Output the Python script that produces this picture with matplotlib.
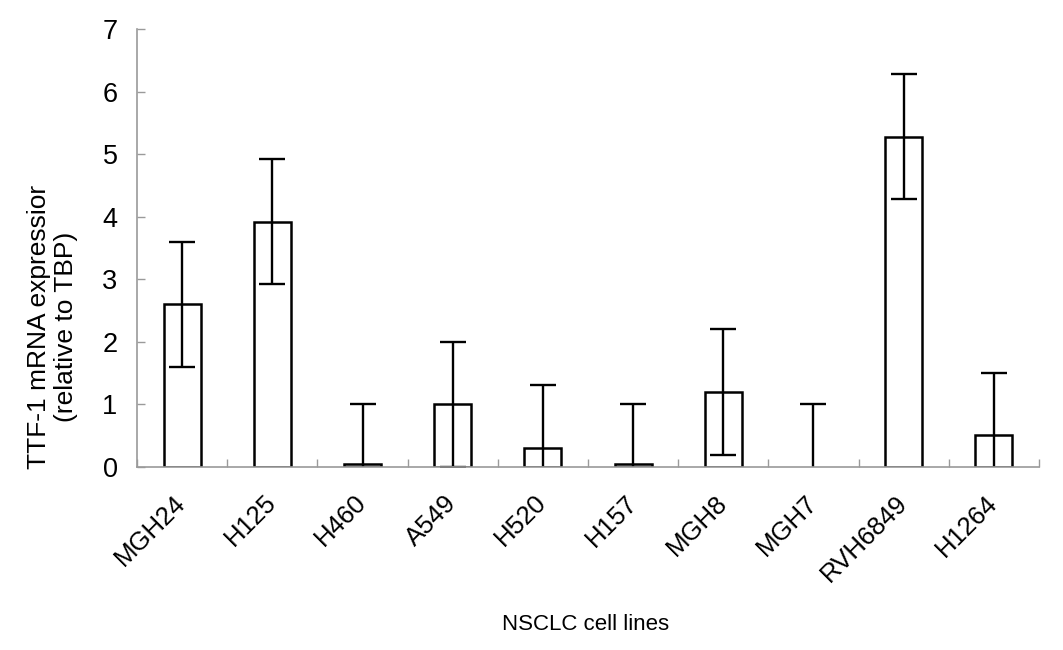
import numpy as np
import matplotlib
matplotlib.use('Agg')
import matplotlib.pyplot as plt

# TTF-1 expression per NSCLC cell line
cell_lines = ['MGH24', 'H125', 'H460', 'A549', 'H520',
              'H157', 'MGH8', 'MGH7', 'RVH6849', 'H1264']
expression = [2.6, 3.92, 0.05, 1.0, 0.31, 0.05, 1.2, 0.0, 5.28, 0.51]
errors = [1.0, 1.0, 0.96, 1.0, 1.0, 0.96, 1.0, 1.0, 1.0, 1.0]

plt.rcParams['font.family'] = ['Liberation Sans', 'DejaVu Sans']

fig = plt.figure(figsize=(10.63, 6.5), dpi=100)
ax = fig.add_axes([0.1289, 0.2815, 0.8485, 0.674])

xs = np.arange(len(cell_lines))
edge_w = [1.8 if v > 0 else 0 for v in expression]
ax.bar(xs, expression, width=0.41, color='white', edgecolor='black',
       linewidth=edge_w, zorder=2)
ax.errorbar(xs, expression, yerr=errors, fmt='none', ecolor='black',
            elinewidth=1.7, capsize=9.5, capthick=1.7, zorder=3)

ax.set_xlim(-0.5, len(cell_lines) - 0.5)
ax.set_ylim(0, 7)
ax.set_yticks(range(0, 8))

for side in ['top', 'right']:
    ax.spines[side].set_visible(False)
for side in ['left', 'bottom']:
    ax.spines[side].set_color('#9a9a9a')
    ax.spines[side].set_linewidth(1.2)
    ax.spines[side].set_zorder(4)

ax.tick_params(axis='y', direction='in', length=6, width=1, color='#9a9a9a',
               labelsize=19.5, pad=14)
ax.set_xticks(xs)
ax.set_xticklabels(cell_lines, rotation=45, ha='right', va='center',
                   rotation_mode='anchor', fontsize=18.5)
ax.tick_params(axis='x', length=0, pad=23)
ax.set_xticks(np.arange(-0.5, len(cell_lines)), minor=True)
ax.tick_params(axis='x', which='minor', direction='in', length=6, width=1,
               color='#9a9a9a')

fig.text(0.551, 1 - 625 / 650, 'NSCLC cell lines', ha='center', va='center',
         fontsize=16)
fig.text(0.049, 1 - 327 / 650, 'TTF-1 mRNA expressior\n(relative to TBP)',
         ha='center', va='center', rotation=90, fontsize=19,
         multialignment='center', linespacing=1.15)

plt.savefig('out.png', dpi=100)
